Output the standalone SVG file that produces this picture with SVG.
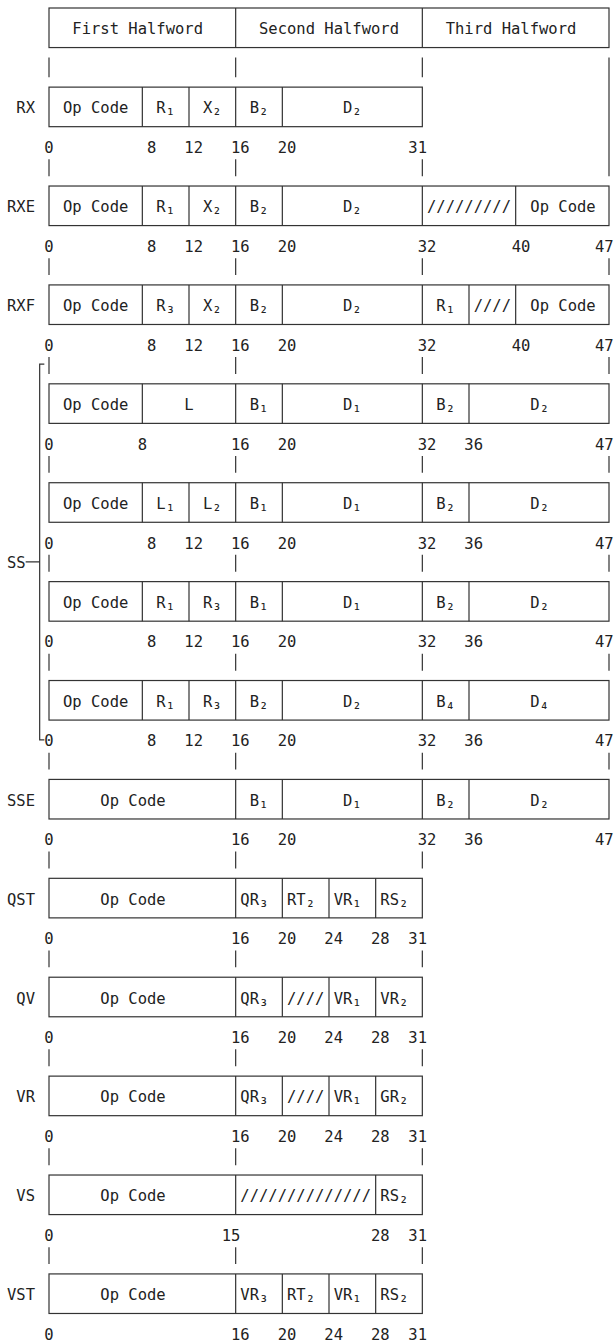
<svg xmlns="http://www.w3.org/2000/svg" width="616" height="1342" viewBox="0 0 616 1342">
<style>
.t{font-family:"DejaVu Sans Mono","Liberation Mono",monospace;font-size:15.5px;fill:#222}
.b{fill:none;stroke:#333;stroke-width:1.2}
.d{fill:none;stroke:#333;stroke-width:1.2}
</style>
<rect x="0" y="0" width="616" height="1342" fill="#fff"/>
<g id="connectors">
<path class="d" d="M49 57.45V77.23M235.67 57.45V77.23M422.33 57.45V77.23M609 57.45V176.13"/>
<path class="d" d="M49 159.24V176.13M235.67 159.24V176.13M422.33 159.24V176.13"/>
<path class="d" d="M49 258.14V275.03M235.67 258.14V275.03M422.33 258.14V275.03M609 258.14V275.03"/>
<path class="d" d="M49 357.04V373.93M235.67 357.04V373.93M422.33 357.04V373.93M609 357.04V373.93"/>
<path class="d" d="M49 455.94V472.83M235.67 455.94V472.83M422.33 455.94V472.83M609 455.94V472.83"/>
<path class="d" d="M49 554.84V571.73M235.67 554.84V571.73M422.33 554.84V571.73M609 554.84V571.73"/>
<path class="d" d="M49 653.74V670.63M235.67 653.74V670.63M422.33 653.74V670.63M609 653.74V670.63"/>
<path class="d" d="M49 752.64V769.53M235.67 752.64V769.53M422.33 752.64V769.53M609 752.64V769.53"/>
<path class="d" d="M49 851.54V868.43M235.67 851.54V868.43M422.33 851.54V868.43"/>
<path class="d" d="M49 950.44V967.33M235.67 950.44V967.33M422.33 950.44V967.33"/>
<path class="d" d="M49 1049.34V1066.23M235.67 1049.34V1066.23M422.33 1049.34V1066.23"/>
<path class="d" d="M49 1148.24V1165.13M235.67 1148.24V1165.13M422.33 1148.24V1165.13"/>
<path class="d" d="M49 1247.14V1264.03M235.67 1247.14V1264.03M422.33 1247.14V1264.03"/>
<path id="ss-bracket" class="d" d="M44.33 364.04H39.67V739.86H44.33M25.67 561.84H39.67"/>
</g>
<g id="header">
<rect class="b" x="49" y="8" width="560" height="39.56"/>
<path class="d" d="M235.67 8V47.56M422.33 8V47.56"/>
<text class="t" x="72.33" y="34.28">First Halfword</text>
<text class="t" x="259" y="34.28">Second Halfword</text>
<text class="t" x="445.67" y="34.28">Third Halfword</text>
</g>
<g id="rx">
<text class="t" x="16.33" y="113.4">RX</text>
<rect class="b" x="49" y="87.12" width="373.33" height="39.56"/>
<path class="d" d="M142.33 87.12V126.68M189 87.12V126.68M235.67 87.12V126.68M282.33 87.12V126.68"/>
<text class="t" x="63" y="113.4">Op Code</text>
<text class="t" x="156.33" y="113.4">R<tspan dy="2">₁</tspan></text>
<text class="t" x="203" y="113.4">X<tspan dy="2">₂</tspan></text>
<text class="t" x="249.67" y="113.4">B<tspan dy="2">₂</tspan></text>
<text class="t" x="343" y="113.4">D<tspan dy="2">₂</tspan></text>
<text class="t" x="44.33" y="152.96">0</text>
<text class="t" x="147" y="152.96">8</text>
<text class="t" x="184.33" y="152.96">12</text>
<text class="t" x="231" y="152.96">16</text>
<text class="t" x="277.67" y="152.96">20</text>
<text class="t" x="408.33" y="152.96">31</text>
</g>
<g id="rxe">
<text class="t" x="7" y="212.3">RXE</text>
<rect class="b" x="49" y="186.02" width="560" height="39.56"/>
<path class="d" d="M142.33 186.02V225.58M189 186.02V225.58M235.67 186.02V225.58M282.33 186.02V225.58M422.33 186.02V225.58M515.67 186.02V225.58"/>
<text class="t" x="63" y="212.3">Op Code</text>
<text class="t" x="156.33" y="212.3">R<tspan dy="2">₁</tspan></text>
<text class="t" x="203" y="212.3">X<tspan dy="2">₂</tspan></text>
<text class="t" x="249.67" y="212.3">B<tspan dy="2">₂</tspan></text>
<text class="t" x="343" y="212.3">D<tspan dy="2">₂</tspan></text>
<text class="t" x="427" y="212.3">/////////</text>
<text class="t" x="530.33" y="212.3">Op Code</text>
<text class="t" x="44.33" y="251.86">0</text>
<text class="t" x="147" y="251.86">8</text>
<text class="t" x="184.33" y="251.86">12</text>
<text class="t" x="231" y="251.86">16</text>
<text class="t" x="277.67" y="251.86">20</text>
<text class="t" x="417.67" y="251.86">32</text>
<text class="t" x="511.67" y="251.86">40</text>
<text class="t" x="595" y="251.86">47</text>
</g>
<g id="rxf">
<text class="t" x="7" y="311.2">RXF</text>
<rect class="b" x="49" y="284.92" width="560" height="39.56"/>
<path class="d" d="M142.33 284.92V324.48M189 284.92V324.48M235.67 284.92V324.48M282.33 284.92V324.48M422.33 284.92V324.48M469 284.92V324.48M515.67 284.92V324.48"/>
<text class="t" x="63" y="311.2">Op Code</text>
<text class="t" x="156.33" y="311.2">R<tspan dy="2">₃</tspan></text>
<text class="t" x="203" y="311.2">X<tspan dy="2">₂</tspan></text>
<text class="t" x="249.67" y="311.2">B<tspan dy="2">₂</tspan></text>
<text class="t" x="343" y="311.2">D<tspan dy="2">₂</tspan></text>
<text class="t" x="436.33" y="311.2">R<tspan dy="2">₁</tspan></text>
<text class="t" x="473.67" y="311.2">////</text>
<text class="t" x="530.33" y="311.2">Op Code</text>
<text class="t" x="44.33" y="350.76">0</text>
<text class="t" x="147" y="350.76">8</text>
<text class="t" x="184.33" y="350.76">12</text>
<text class="t" x="231" y="350.76">16</text>
<text class="t" x="277.67" y="350.76">20</text>
<text class="t" x="417.67" y="350.76">32</text>
<text class="t" x="511.67" y="350.76">40</text>
<text class="t" x="595" y="350.76">47</text>
</g>
<g id="ss1">
<rect class="b" x="49" y="383.82" width="560" height="39.56"/>
<path class="d" d="M142.33 383.82V423.38M235.67 383.82V423.38M282.33 383.82V423.38M422.33 383.82V423.38M469 383.82V423.38"/>
<text class="t" x="63" y="410.1">Op Code</text>
<text class="t" x="184.33" y="410.1">L</text>
<text class="t" x="249.67" y="410.1">B<tspan dy="2">₁</tspan></text>
<text class="t" x="343" y="410.1">D<tspan dy="2">₁</tspan></text>
<text class="t" x="436.33" y="410.1">B<tspan dy="2">₂</tspan></text>
<text class="t" x="530.33" y="410.1">D<tspan dy="2">₂</tspan></text>
<text class="t" x="44.33" y="449.66">0</text>
<text class="t" x="137.67" y="449.66">8</text>
<text class="t" x="231" y="449.66">16</text>
<text class="t" x="277.67" y="449.66">20</text>
<text class="t" x="417.67" y="449.66">32</text>
<text class="t" x="464.33" y="449.66">36</text>
<text class="t" x="595" y="449.66">47</text>
</g>
<g id="ss2">
<rect class="b" x="49" y="482.72" width="560" height="39.56"/>
<path class="d" d="M142.33 482.72V522.28M189 482.72V522.28M235.67 482.72V522.28M282.33 482.72V522.28M422.33 482.72V522.28M469 482.72V522.28"/>
<text class="t" x="63" y="509">Op Code</text>
<text class="t" x="156.33" y="509">L<tspan dy="2">₁</tspan></text>
<text class="t" x="203" y="509">L<tspan dy="2">₂</tspan></text>
<text class="t" x="249.67" y="509">B<tspan dy="2">₁</tspan></text>
<text class="t" x="343" y="509">D<tspan dy="2">₁</tspan></text>
<text class="t" x="436.33" y="509">B<tspan dy="2">₂</tspan></text>
<text class="t" x="530.33" y="509">D<tspan dy="2">₂</tspan></text>
<text class="t" x="44.33" y="548.56">0</text>
<text class="t" x="147" y="548.56">8</text>
<text class="t" x="184.33" y="548.56">12</text>
<text class="t" x="231" y="548.56">16</text>
<text class="t" x="277.67" y="548.56">20</text>
<text class="t" x="417.67" y="548.56">32</text>
<text class="t" x="464.33" y="548.56">36</text>
<text class="t" x="595" y="548.56">47</text>
</g>
<g id="ss-label">
<text class="t" x="7" y="568.34">SS</text>
</g>
<g id="ss3">
<rect class="b" x="49" y="581.62" width="560" height="39.56"/>
<path class="d" d="M142.33 581.62V621.18M189 581.62V621.18M235.67 581.62V621.18M282.33 581.62V621.18M422.33 581.62V621.18M469 581.62V621.18"/>
<text class="t" x="63" y="607.9">Op Code</text>
<text class="t" x="156.33" y="607.9">R<tspan dy="2">₁</tspan></text>
<text class="t" x="203" y="607.9">R<tspan dy="2">₃</tspan></text>
<text class="t" x="249.67" y="607.9">B<tspan dy="2">₁</tspan></text>
<text class="t" x="343" y="607.9">D<tspan dy="2">₁</tspan></text>
<text class="t" x="436.33" y="607.9">B<tspan dy="2">₂</tspan></text>
<text class="t" x="530.33" y="607.9">D<tspan dy="2">₂</tspan></text>
<text class="t" x="44.33" y="647.46">0</text>
<text class="t" x="147" y="647.46">8</text>
<text class="t" x="184.33" y="647.46">12</text>
<text class="t" x="231" y="647.46">16</text>
<text class="t" x="277.67" y="647.46">20</text>
<text class="t" x="417.67" y="647.46">32</text>
<text class="t" x="464.33" y="647.46">36</text>
<text class="t" x="595" y="647.46">47</text>
</g>
<g id="ss4">
<rect class="b" x="49" y="680.52" width="560" height="39.56"/>
<path class="d" d="M142.33 680.52V720.08M189 680.52V720.08M235.67 680.52V720.08M282.33 680.52V720.08M422.33 680.52V720.08M469 680.52V720.08"/>
<text class="t" x="63" y="706.8">Op Code</text>
<text class="t" x="156.33" y="706.8">R<tspan dy="2">₁</tspan></text>
<text class="t" x="203" y="706.8">R<tspan dy="2">₃</tspan></text>
<text class="t" x="249.67" y="706.8">B<tspan dy="2">₂</tspan></text>
<text class="t" x="343" y="706.8">D<tspan dy="2">₂</tspan></text>
<text class="t" x="436.33" y="706.8">B<tspan dy="2">₄</tspan></text>
<text class="t" x="530.33" y="706.8">D<tspan dy="2">₄</tspan></text>
<text class="t" x="44.33" y="746.36">0</text>
<text class="t" x="147" y="746.36">8</text>
<text class="t" x="184.33" y="746.36">12</text>
<text class="t" x="231" y="746.36">16</text>
<text class="t" x="277.67" y="746.36">20</text>
<text class="t" x="417.67" y="746.36">32</text>
<text class="t" x="464.33" y="746.36">36</text>
<text class="t" x="595" y="746.36">47</text>
</g>
<g id="sse">
<text class="t" x="7" y="805.7">SSE</text>
<rect class="b" x="49" y="779.42" width="560" height="39.56"/>
<path class="d" d="M235.67 779.42V818.98M282.33 779.42V818.98M422.33 779.42V818.98M469 779.42V818.98"/>
<text class="t" x="100.33" y="805.7">Op Code</text>
<text class="t" x="249.67" y="805.7">B<tspan dy="2">₁</tspan></text>
<text class="t" x="343" y="805.7">D<tspan dy="2">₁</tspan></text>
<text class="t" x="436.33" y="805.7">B<tspan dy="2">₂</tspan></text>
<text class="t" x="530.33" y="805.7">D<tspan dy="2">₂</tspan></text>
<text class="t" x="44.33" y="845.26">0</text>
<text class="t" x="231" y="845.26">16</text>
<text class="t" x="277.67" y="845.26">20</text>
<text class="t" x="417.67" y="845.26">32</text>
<text class="t" x="464.33" y="845.26">36</text>
<text class="t" x="595" y="845.26">47</text>
</g>
<g id="qst">
<text class="t" x="7" y="904.6">QST</text>
<rect class="b" x="49" y="878.32" width="373.33" height="39.56"/>
<path class="d" d="M235.67 878.32V917.88M282.33 878.32V917.88M329 878.32V917.88M375.67 878.32V917.88"/>
<text class="t" x="100.33" y="904.6">Op Code</text>
<text class="t" x="240.33" y="904.6">QR<tspan dy="2">₃</tspan></text>
<text class="t" x="287" y="904.6">RT<tspan dy="2">₂</tspan></text>
<text class="t" x="333.67" y="904.6">VR<tspan dy="2">₁</tspan></text>
<text class="t" x="380.33" y="904.6">RS<tspan dy="2">₂</tspan></text>
<text class="t" x="44.33" y="944.16">0</text>
<text class="t" x="231" y="944.16">16</text>
<text class="t" x="277.67" y="944.16">20</text>
<text class="t" x="324.33" y="944.16">24</text>
<text class="t" x="371" y="944.16">28</text>
<text class="t" x="408.33" y="944.16">31</text>
</g>
<g id="qv">
<text class="t" x="16.33" y="1003.5">QV</text>
<rect class="b" x="49" y="977.22" width="373.33" height="39.56"/>
<path class="d" d="M235.67 977.22V1016.78M282.33 977.22V1016.78M329 977.22V1016.78M375.67 977.22V1016.78"/>
<text class="t" x="100.33" y="1003.5">Op Code</text>
<text class="t" x="240.33" y="1003.5">QR<tspan dy="2">₃</tspan></text>
<text class="t" x="287" y="1003.5">////</text>
<text class="t" x="333.67" y="1003.5">VR<tspan dy="2">₁</tspan></text>
<text class="t" x="380.33" y="1003.5">VR<tspan dy="2">₂</tspan></text>
<text class="t" x="44.33" y="1043.06">0</text>
<text class="t" x="231" y="1043.06">16</text>
<text class="t" x="277.67" y="1043.06">20</text>
<text class="t" x="324.33" y="1043.06">24</text>
<text class="t" x="371" y="1043.06">28</text>
<text class="t" x="408.33" y="1043.06">31</text>
</g>
<g id="vr">
<text class="t" x="16.33" y="1102.4">VR</text>
<rect class="b" x="49" y="1076.12" width="373.33" height="39.56"/>
<path class="d" d="M235.67 1076.12V1115.68M282.33 1076.12V1115.68M329 1076.12V1115.68M375.67 1076.12V1115.68"/>
<text class="t" x="100.33" y="1102.4">Op Code</text>
<text class="t" x="240.33" y="1102.4">QR<tspan dy="2">₃</tspan></text>
<text class="t" x="287" y="1102.4">////</text>
<text class="t" x="333.67" y="1102.4">VR<tspan dy="2">₁</tspan></text>
<text class="t" x="380.33" y="1102.4">GR<tspan dy="2">₂</tspan></text>
<text class="t" x="44.33" y="1141.96">0</text>
<text class="t" x="231" y="1141.96">16</text>
<text class="t" x="277.67" y="1141.96">20</text>
<text class="t" x="324.33" y="1141.96">24</text>
<text class="t" x="371" y="1141.96">28</text>
<text class="t" x="408.33" y="1141.96">31</text>
</g>
<g id="vs">
<text class="t" x="16.33" y="1201.3">VS</text>
<rect class="b" x="49" y="1175.02" width="373.33" height="39.56"/>
<path class="d" d="M235.67 1175.02V1214.58M375.67 1175.02V1214.58"/>
<text class="t" x="100.33" y="1201.3">Op Code</text>
<text class="t" x="240.33" y="1201.3">//////////////</text>
<text class="t" x="380.33" y="1201.3">RS<tspan dy="2">₂</tspan></text>
<text class="t" x="44.33" y="1240.86">0</text>
<text class="t" x="221.67" y="1240.86">15</text>
<text class="t" x="371" y="1240.86">28</text>
<text class="t" x="408.33" y="1240.86">31</text>
</g>
<g id="vst">
<text class="t" x="7" y="1300.2">VST</text>
<rect class="b" x="49" y="1273.92" width="373.33" height="39.56"/>
<path class="d" d="M235.67 1273.92V1313.48M282.33 1273.92V1313.48M329 1273.92V1313.48M375.67 1273.92V1313.48"/>
<text class="t" x="100.33" y="1300.2">Op Code</text>
<text class="t" x="240.33" y="1300.2">VR<tspan dy="2">₃</tspan></text>
<text class="t" x="287" y="1300.2">RT<tspan dy="2">₂</tspan></text>
<text class="t" x="333.67" y="1300.2">VR<tspan dy="2">₁</tspan></text>
<text class="t" x="380.33" y="1300.2">RS<tspan dy="2">₂</tspan></text>
<text class="t" x="44.33" y="1339.76">0</text>
<text class="t" x="231" y="1339.76">16</text>
<text class="t" x="277.67" y="1339.76">20</text>
<text class="t" x="324.33" y="1339.76">24</text>
<text class="t" x="371" y="1339.76">28</text>
<text class="t" x="408.33" y="1339.76">31</text>
</g>
</svg>
